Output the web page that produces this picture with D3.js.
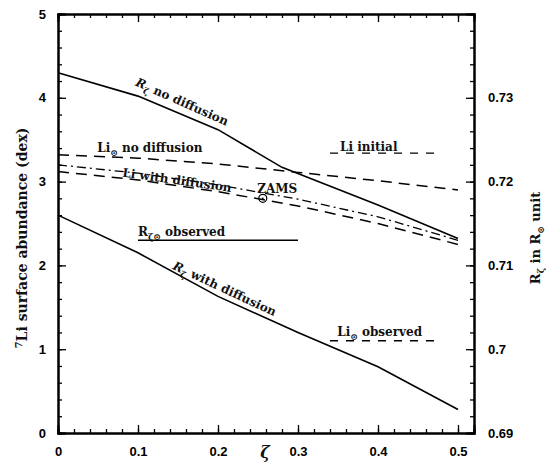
<!DOCTYPE html>
<html>
<head>
<meta charset="utf-8">
<script src="https://cdn.jsdelivr.net/npm/d3@7"></script>
<style>
  body { margin: 0; background: #fff; }
  .tick text { font-family: "Liberation Sans", Arial, sans-serif; font-weight: bold; font-size: 13px; }
  .lbl { font-family: "DejaVu Serif", "Liberation Serif", serif; font-weight: bold; font-size: 12px; fill: #111; }
</style>
</head>
<body>
<div id="chart"></div>
<script>
// Data (zeta, abundance in dex)
let zeta = [0, 0.1, 0.2, 0.3, 0.4, 0.5];
let rWithDiff = [2.6, 2.15, 1.63, 1.2, 0.79, 0.28];
let liNoDiff = [3.32, 3.28, 3.21, 3.11, 3.01, 2.9];
let liWithDiff = [3.12, 3.02, 2.88, 2.71, 2.5, 2.25];
let liDashDot = [3.2, 3.1, 2.96, 2.79, 2.58, 2.3];
let rNoDiffZeta = [0, 0.1, 0.2, 0.28, 0.4, 0.5];
let rNoDiffVals = [4.3, 4.02, 3.62, 3.17, 2.72, 2.32];

let liInitial = { x: [0.34, 0.47], y: 3.34 };
let liObserved = { x: [0.34, 0.47], y: 1.1 };
let rObserved = { x: [0.1, 0.3], y: 2.3 };
let zams = { x: 0.256, y: 2.8 };

let xTicks = [0, 0.1, 0.2, 0.3, 0.4, 0.5];
let yTicks = [0, 1, 2, 3, 4, 5];
let yRTicks = [0.69, 0.70, 0.71, 0.72, 0.73];

let W = 546, H = 465;
let svg = d3.select("#chart").append("svg")
  .attr("width", W).attr("height", H);

let x = d3.scaleLinear().domain([0, 0.52]).range([58, 474]);
let y = d3.scaleLinear().domain([0, 5]).range([433, 14]);
let yR = d3.scaleLinear().domain([0.69, 0.74]).range([433, 14]);

let xMinor = d3.range(0, 0.521, 0.02);
let yMinor = d3.range(0, 5.01, 0.2);
let yRMinor = d3.range(0.69, 0.7401, 0.002);

function axisStyle(g) {
  g.select(".domain").attr("stroke", "#000").attr("stroke-width", 2);
  g.selectAll(".tick line").attr("stroke", "#000").attr("stroke-width", 1.3);
}

// minor ticks first, then majors
svg.append("g").attr("transform", "translate(0,433)")
  .call(d3.axisBottom(x).tickValues(xMinor).tickSize(-4).tickFormat(""))
  .call(axisStyle);
svg.append("g").attr("transform", "translate(0,433)")
  .call(d3.axisBottom(x).tickValues(xTicks).tickSize(-8).tickPadding(14).tickFormat(d => d === 0 ? "0" : d3.format(".1f")(d)))
  .call(axisStyle);
svg.append("g").attr("transform", "translate(0,14)")
  .call(d3.axisTop(x).tickValues(xMinor).tickSize(-4).tickFormat(""))
  .call(axisStyle);
svg.append("g").attr("transform", "translate(0,14)")
  .call(d3.axisTop(x).tickValues(xTicks).tickSize(-8).tickFormat(""))
  .call(axisStyle);

svg.append("g").attr("transform", "translate(58,0)")
  .call(d3.axisLeft(y).tickValues(yMinor).tickSize(-4).tickFormat(""))
  .call(axisStyle);
svg.append("g").attr("transform", "translate(58,0)")
  .call(d3.axisLeft(y).tickValues(yTicks).tickSize(-8).tickPadding(12).tickFormat(d3.format("d")))
  .call(axisStyle);

svg.append("g").attr("transform", "translate(474,0)")
  .call(d3.axisRight(yR).tickValues(yRMinor).tickSize(-4).tickFormat(""))
  .call(axisStyle);
svg.append("g").attr("transform", "translate(474,0)")
  .call(d3.axisRight(yR).tickValues(yRTicks).tickSize(-8).tickPadding(14).tickFormat(d => d3.format(".2~f")(d)))
  .call(axisStyle);

svg.selectAll(".tick text").attr("fill", "#000");

// Curves
let line = d3.line().x(d => x(d[0])).y(d => y(d[1]));
function curve(xs, ys, dash, sw) {
  svg.append("path")
    .datum(xs.map((v, i) => [v, ys[i]]))
    .attr("d", line)
    .attr("fill", "none")
    .attr("stroke", "#000")
    .attr("stroke-width", sw || 1.5)
    .attr("stroke-dasharray", dash || null);
}
curve(rNoDiffZeta, rNoDiffVals, null, 1.6);
curve(zeta, rWithDiff, null, 1.6);
curve(zeta, liNoDiff, "11,7", 1.5);
curve(zeta, liWithDiff, "11,7", 1.5);
curve(zeta, liDashDot, "9,4,2,4", 1.3);

// observed / initial reference lines
function hline(o, dash) {
  svg.append("line")
    .attr("x1", x(o.x[0])).attr("x2", x(o.x[1]))
    .attr("y1", y(o.y)).attr("y2", y(o.y))
    .attr("stroke", "#000").attr("stroke-width", 1.4)
    .attr("stroke-dasharray", dash || null);
}
hline(rObserved);
hline(liInitial, "8,8");
hline(liObserved, "8,8");

// ZAMS marker
svg.append("circle").attr("cx", x(zams.x)).attr("cy", y(zams.y)).attr("r", 4)
  .attr("fill", "none").attr("stroke", "#000").attr("stroke-width", 1.2);
svg.append("circle").attr("cx", x(zams.x)).attr("cy", y(zams.y)).attr("r", 0.9).attr("fill", "#000");

// Labels placed in data coordinates
function label(zx, vy, rot, parts) {
  let t = svg.append("text").attr("class", "lbl")
    .attr("transform", "translate(" + x(zx) + "," + y(vy) + ") rotate(" + rot + ")");
  parts.forEach(p => {
    let s = t.append("tspan").text(p[0]);
    if (p[1] === "sub") s.attr("font-size", "9px").attr("dy", 4);
    if (p[1] === "up") s.attr("dy", -4);
    if (p[1] === "it") s.attr("font-style", "italic");
  });
}
label(0.096, 4.15, 24, [["R", "it"], ["ζ", "sub"], [" no diffusion", "up"]]);
label(0.049, 3.35, 0, [["Li"], ["⊙", "sub"], [" no diffusion", "up"]]);
label(0.08, 3.06, 8, [["Li with diffusion"]]);
label(0.249, 2.86, 0, [["ZAMS"]]);
label(0.3525, 3.36, 0, [["Li initial"]]);
label(0.1, 2.35, 0, [["R"], ["ζ⊙", "sub"], ["  observed", "up"]]);
label(0.1425, 1.96, 25, [["R", "it"], ["ζ", "sub"], [" with diffusion", "up"]]);
label(0.349, 1.16, 0, [["Li"], ["⊙", "sub"], [" observed", "up"]]);

// Axis titles
let yt = svg.append("text").attr("class", "lbl")
  .attr("transform", "translate(27,238) rotate(-90)")
  .attr("text-anchor", "middle").style("font-size", "14px");
yt.append("tspan").text("7").attr("font-size", "10px").attr("dy", -5);
yt.append("tspan").text("Li surface abundance (dex)").attr("dy", 5);

let rt = svg.append("text").attr("class", "lbl")
  .attr("transform", "translate(540,238) rotate(-90)")
  .attr("text-anchor", "middle").style("font-size", "13px");
rt.append("tspan").text("R");
rt.append("tspan").text("ζ").attr("font-size", "9px").attr("dy", 4);
rt.append("tspan").text(" in R").attr("dy", -4);
rt.append("tspan").text("⊙").attr("font-size", "9px").attr("dy", 4);
rt.append("tspan").text(" unit").attr("dy", -4);

svg.append("text").attr("class", "lbl")
  .attr("x", 265).attr("y", 458).attr("text-anchor", "middle")
  .style("font-size", "16px").style("font-style", "italic").text("ζ");
</script>
</body>
</html>
